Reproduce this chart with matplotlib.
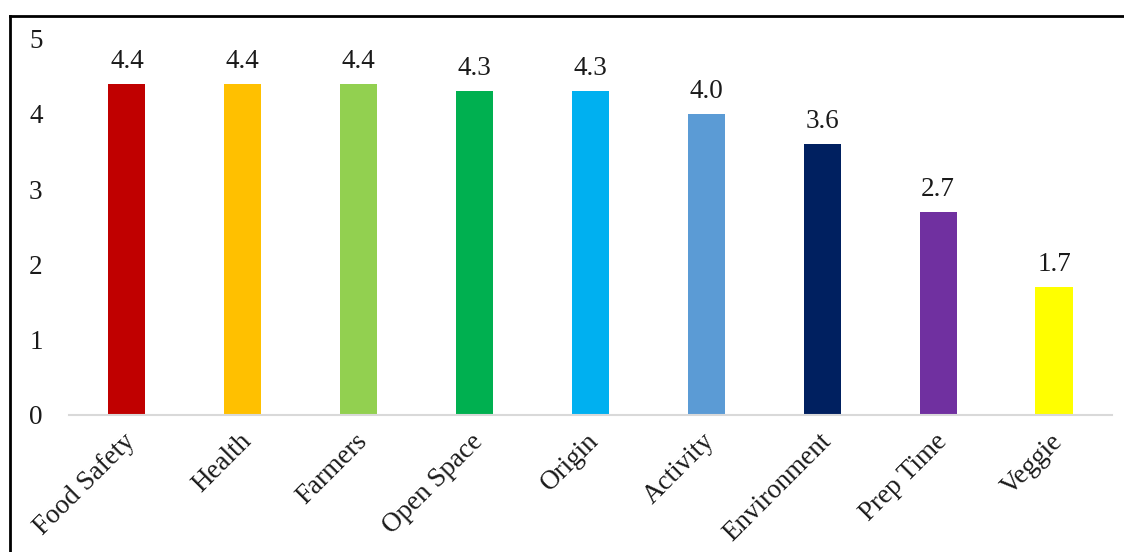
import matplotlib
matplotlib.use("Agg")
import matplotlib.pyplot as plt
import matplotlib.transforms as mtransforms
from matplotlib.lines import Line2D

plt.rcParams['font.family'] = ['Liberation Serif', 'DejaVu Serif']

# Scores moyens par motif
categories = ['Food Safety', 'Health', 'Farmers', 'Open Space', 'Origin',
              'Activity', 'Environment', 'Prep Time', 'Veggie']
scores = [4.4, 4.4, 4.4, 4.3, 4.3, 4.0, 3.6, 2.7, 1.7]
couleurs = ['#C00000', '#FFC000', '#92D050', '#00B050', '#00B0F0',
            '#5B9BD5', '#002060', '#7030A0', '#FFFF00']
graduations_y = [0, 1, 2, 3, 4, 5]

TAILLE = 19.5
COULEUR_TEXTE = '#1a1a1a'

fig = plt.figure(figsize=(11.24, 5.52), dpi=100)
ax = fig.add_axes([0.0614, 0.2482, 0.9279, 0.6821])

x = range(len(categories))
barres = ax.bar(x, scores, width=0.32, color=couleurs)

for i, v in enumerate(scores):
    ax.annotate('{:.1f}'.format(v), xy=(i, v), xytext=(0, 7),
                textcoords='offset points', ha='center', va='bottom',
                fontsize=TAILLE, color=COULEUR_TEXTE)

ax.set_xlim(-0.5, len(categories) - 0.5)
ax.set_ylim(0, 5)
ax.set_yticks(graduations_y)
ax.set_yticklabels([str(t) for t in graduations_y], fontsize=TAILLE, color=COULEUR_TEXTE)
ax.set_xticks(list(x))
ax.set_xticklabels(categories, fontsize=TAILLE, color=COULEUR_TEXTE, rotation=45,
                   ha='right', rotation_mode='anchor')
ax.tick_params(axis='both', length=0)
ax.tick_params(axis='y', pad=19)
ax.tick_params(axis='x', pad=10)

# petit decalage des etiquettes vers la gauche
decalage = mtransforms.ScaledTranslation(-4 / 100, 0, fig.dpi_scale_trans)
for etiquette in ax.get_xticklabels():
    etiquette.set_transform(etiquette.get_transform() + decalage)

for cote in ['left', 'right', 'top']:
    ax.spines[cote].set_visible(False)
ax.spines['bottom'].set_color('#D9D9D9')
ax.spines['bottom'].set_linewidth(1.5)

# Cadre noir autour du graphique
fig.add_artist(Line2D([9.5 / 1124, 1.0], [1 - 15.5 / 552, 1 - 15.5 / 552],
                      transform=fig.transFigure, color='black', linewidth=2))
fig.add_artist(Line2D([9.5 / 1124, 9.5 / 1124], [0.0, 1 - 15.5 / 552],
                      transform=fig.transFigure, color='black', linewidth=2))

fig.savefig('out.png', dpi=100)
